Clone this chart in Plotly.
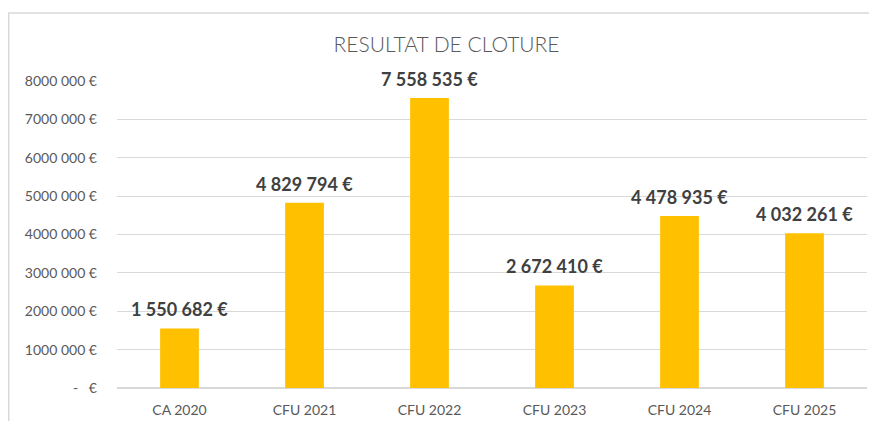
import plotly.graph_objects as go

# chart data
categories = ["CA 2020", "CFU 2021", "CFU 2022", "CFU 2023", "CFU 2024", "CFU 2025"]
resultat = [1550682, 4829794, 7558535, 2672410, 4478935, 4032261]
tick_values = [0, 1000000, 2000000, 3000000, 4000000, 5000000, 6000000, 7000000, 8000000]
tick_labels = ["-\u00a0\u00a0\u00a0€", "1000 000 €", "2000 000 €", "3000 000 €", "4000 000 €",
               "5000 000 €", "6000 000 €", "7000 000 €", "8000 000 €"]


def euro(v):
    return "{:,}".format(v).replace(",", " ") + " €"


fig = go.Figure()
fig.add_trace(go.Bar(x=categories, y=resultat, marker=dict(color="#FFC000", line=dict(width=0)),
                     hoverinfo="x+y"))

# value labels above each bar
for cat, val in zip(categories, resultat):
    fig.add_annotation(x=cat, y=val, text="<b>" + euro(val) + "</b>", showarrow=False,
                       yanchor="bottom", yshift=6,
                       font=dict(family="Lato", size=18, color="#404040"))

# outer chart frame
fig.add_shape(type="rect", xref="paper", yref="paper", x0=-0.1443, x1=1.05, y0=-0.3, y1=1.2215,
              line=dict(color="#D9D9D9", width=1.5), layer="below")

fig.update_layout(
    width=877, height=421,
    margin=dict(l=109, r=18, t=73, b=41),
    title=dict(text="RESULTAT DE CLOTURE", x=0.5, xanchor="center", y=0.912, yanchor="middle",
               font=dict(family="Lato", size=21, color="#595959", weight=300)),
    plot_bgcolor="white", paper_bgcolor="white",
    bargap=0.69,
    showlegend=False,
    font=dict(family="Lato", color="#595959", size=14),
    xaxis=dict(showgrid=False, showline=False, ticks="", ticklabelstandoff=12,
               tickfont=dict(size=14, color="#595959")),
    yaxis=dict(range=[0, 8000000], tickvals=tick_values, ticktext=tick_labels,
               showgrid=True, gridcolor="#D9D9D9", gridwidth=1, zeroline=True,
               zerolinecolor="#D9D9D9", zerolinewidth=1.5, ticks="", ticklabelstandoff=19,
               tickfont=dict(size=14, color="#595959")),
)

fig.write_html("out.html")
